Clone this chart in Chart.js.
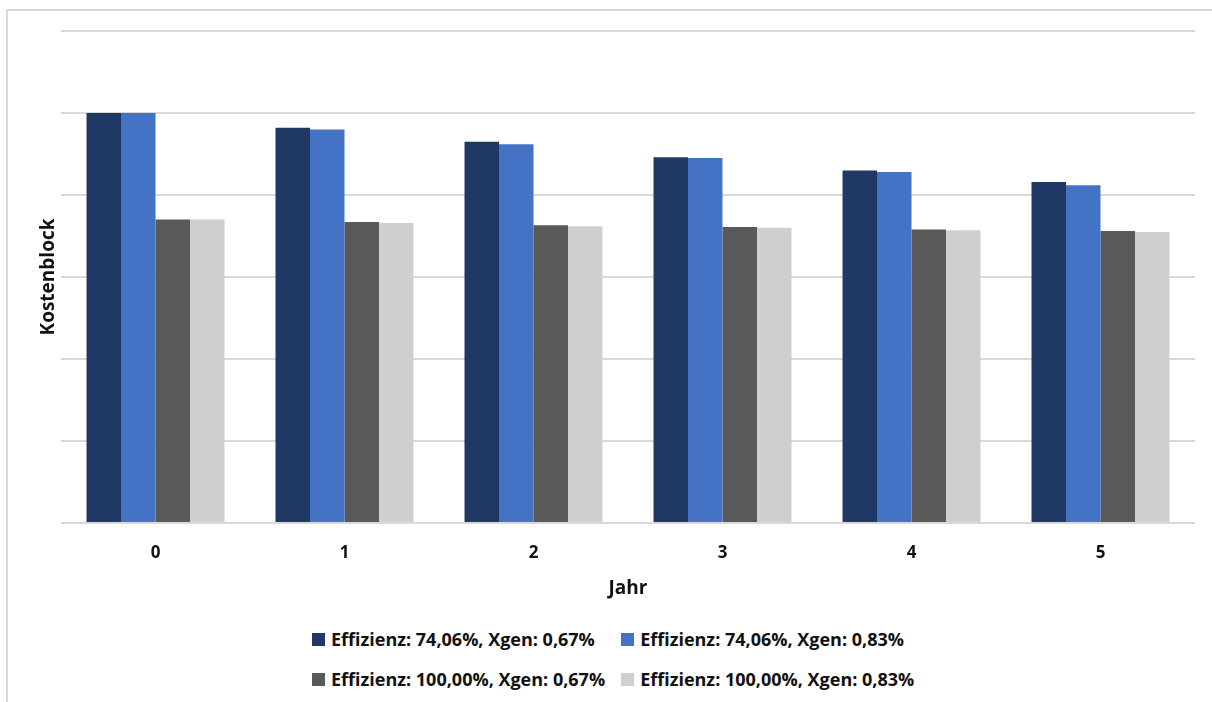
<!DOCTYPE html>
<html lang="de">
<head>
<meta charset="UTF-8">
<title>Kostenblock je Jahr</title>
<script src="https://cdn.jsdelivr.net/npm/chart.js"></script>
<style>
    body { margin: 0; background: #fff; width: 1212px; height: 702px; overflow: hidden; position: relative; font-family: "Open Sans", sans-serif; }
    .frame { position: absolute; left: 6px; top: 9px; width: 1400px; height: 900px; border: 2px solid #dadada; }
    .wrap { position: absolute; left: 0; top: 0; width: 1212px; height: 600px; }
    #legend { position: absolute; left: 312px; top: 628px; display: grid; grid-template-columns: auto auto; column-gap: 16px; row-gap: 17px; font-weight: bold; font-size: 18px; color: #111; }
    #legend .item { display: flex; align-items: center; line-height: 23px; white-space: nowrap; }
    #legend .box { width: 13px; height: 13px; margin-right: 6px; }
</style>
</head>
<body>
<div class="frame"></div>
<div class="wrap"><canvas id="chart"></canvas></div>
<div id="legend"></div>
<script>
// Jahre
const years = ['0', '1', '2', '3', '4', '5'];

const eff74x067 = [5.00, 4.82, 4.65, 4.46, 4.30, 4.16];
const eff74x083 = [5.00, 4.80, 4.62, 4.45, 4.28, 4.12];
const eff100x067 = [3.70, 3.67, 3.63, 3.61, 3.58, 3.56];
const eff100x083 = [3.70, 3.66, 3.62, 3.60, 3.57, 3.55];

const seriesNames = [
    'Effizienz: 74,06%, Xgen: 0,67%',
    'Effizienz: 74,06%, Xgen: 0,83%',
    'Effizienz: 100,00%, Xgen: 0,67%',
    'Effizienz: 100,00%, Xgen: 0,83%'
];
const seriesColors = ['#203864', '#4472c4', '#595959', '#d0cece'];
const seriesData = [eff74x067, eff74x083, eff100x067, eff100x083];

const tickFont = { family: '"Open Sans", sans-serif', weight: 'bold', size: 17 };
const titleFont = { family: '"Open Sans", sans-serif', weight: 'bold', size: 19 };

new Chart(document.getElementById('chart'), {
    type: 'bar',
    data: {
        labels: years,
        datasets: seriesData.map((d, i) => ({
            label: seriesNames[i],
            data: d,
            backgroundColor: seriesColors[i],
            borderWidth: 0,
            categoryPercentage: 0.73,
            barPercentage: 1.0
        }))
    },
    options: {
        responsive: true,
        maintainAspectRatio: false,
        animation: false,
        layout: { padding: { top: 31, right: 17, left: 0, bottom: 0 } },
        plugins: {
            legend: { display: false },
            tooltip: { enabled: false }
        },
        scales: {
            x: {
                grid: { display: false, drawTicks: false },
                border: { display: false },
                ticks: { color: '#111', font: tickFont, padding: 20 },
                title: { display: true, text: 'Jahr', color: '#111', font: titleFont, padding: { top: 0, bottom: 0 } },
                afterFit: s => { s.height = 77; }
            },
            y: {
                min: 0,
                max: 6,
                ticks: { display: false, stepSize: 1 },
                grid: { color: '#d9d9d9', lineWidth: 2, drawTicks: false },
                border: { display: false },
                title: { display: true, text: 'Kostenblock', color: '#111', font: titleFont, padding: { top: 37, bottom: 0 } },
                afterFit: s => { s.width = 61; }
            }
        }
    }
});

// Legende wie im Original: zwei Zeilen, Spalten bündig
const legend = document.getElementById('legend');
seriesNames.forEach((name, i) => {
    const item = document.createElement('div');
    item.className = 'item';
    const box = document.createElement('span');
    box.className = 'box';
    box.style.background = seriesColors[i];
    const txt = document.createElement('span');
    txt.textContent = name;
    item.appendChild(box);
    item.appendChild(txt);
    legend.appendChild(item);
});
</script>
</body>
</html>
